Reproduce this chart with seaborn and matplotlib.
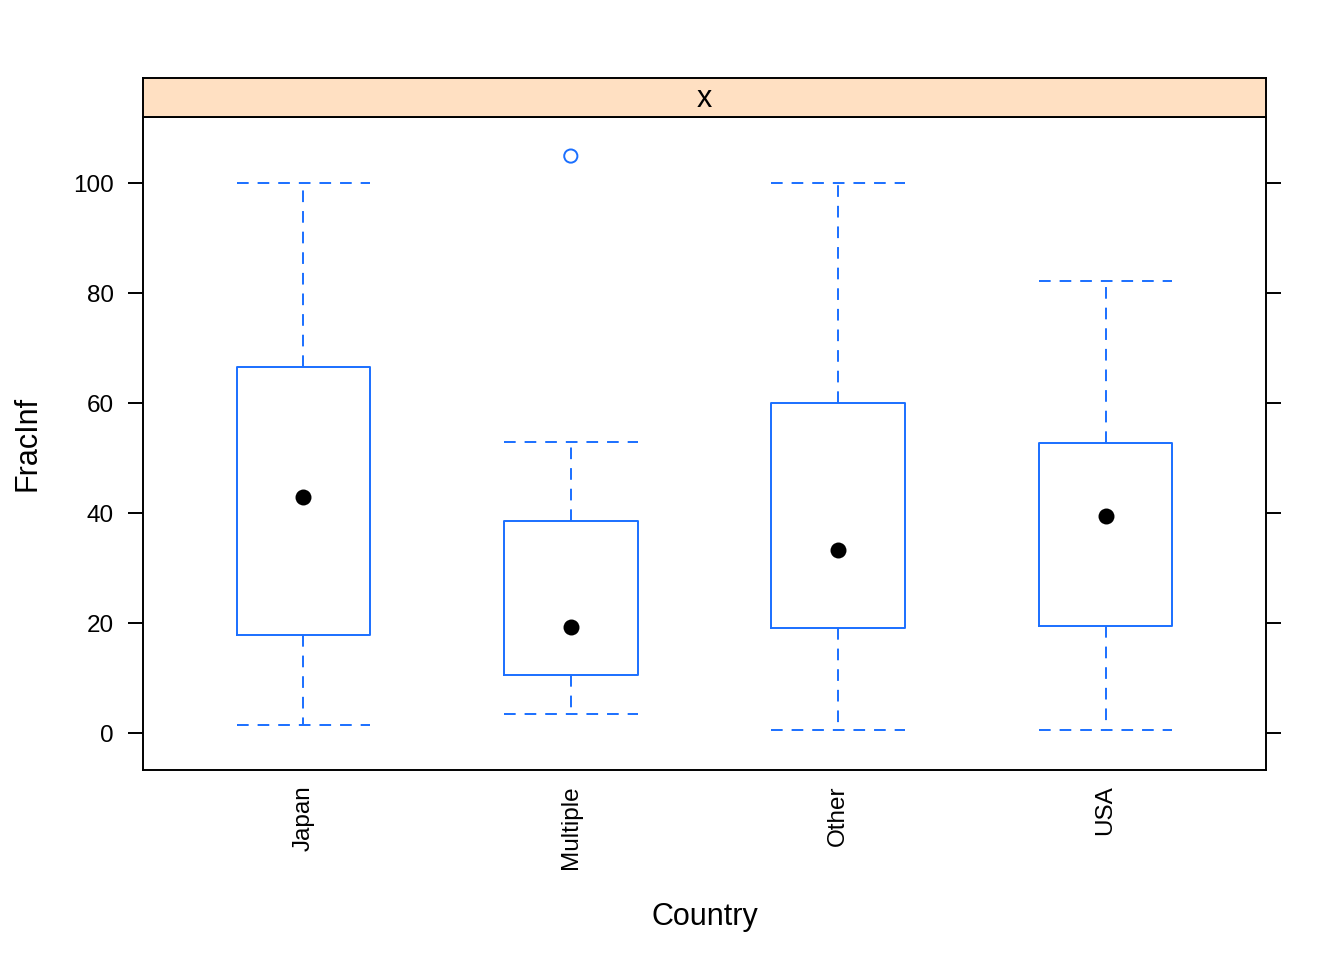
import matplotlib
matplotlib.use("Agg")
import matplotlib.pyplot as plt
import seaborn as sns

# box statistics (FracInf by Country)
countries = ["Japan", "Multiple", "Other", "USA"]
whisker_lo = [1.4, 3.5, 0.5, 0.5]
q1 = [17.8, 10.5, 19.1, 19.5]
median = [42.9, 19.3, 33.3, 39.5]
q3 = [66.6, 38.5, 60.0, 52.7]
whisker_hi = [100.0, 52.9, 100.0, 82.2]
outlier_country = ["Multiple"]
outlier_value = [104.9]

BLUE = "#1a6fff"

sns.set_style("white")
plt.rcParams["font.family"] = ["Liberation Sans", "DejaVu Sans"]
plt.rcParams.update({"text.color": "black", "axes.labelcolor": "black",
                     "xtick.color": "black", "ytick.color": "black"})

fig = plt.figure(figsize=(13.44, 9.6), dpi=100)
left, bottom, width, height = 143 / 1344, 1 - 770 / 960, 1123 / 1344, 653 / 960
ax = fig.add_axes([left, bottom, width, height])

stats = []
for i, name in enumerate(countries):
    stats.append({"label": name, "whislo": whisker_lo[i], "q1": q1[i],
                  "med": median[i], "q3": q3[i], "whishi": whisker_hi[i],
                  "fliers": []})

lw = 1.4
dash = (0, (6, 4.6))
ax.bxp(stats, positions=range(len(countries)), widths=0.5, capwidths=0.5,
       showfliers=False,
       boxprops=dict(color=BLUE, linewidth=lw),
       whiskerprops=dict(color=BLUE, linewidth=lw, linestyle=dash),
       capprops=dict(color=BLUE, linewidth=lw, linestyle=dash),
       medianprops=dict(visible=False))

sns.stripplot(x=countries, y=median, order=countries, jitter=False,
              color="black", size=11.5, linewidth=0, ax=ax, zorder=4)
sns.stripplot(x=outlier_country, y=outlier_value, order=countries, jitter=False,
              color=BLUE, facecolor="none", edgecolor=BLUE, linewidth=lw,
              size=9.5, ax=ax, zorder=4)

ax.set_xlim(-0.6, len(countries) - 0.4)
ax.set_ylim(-6.7, 112)
ax.set_yticks([0, 20, 40, 60, 80, 100])
ax.set_xticks(range(len(countries)))
ax.set_xticklabels(countries, rotation=90)
ax.tick_params(axis="y", left=True, right=True, direction="out", length=11,
               width=lw, labelsize=17.5, pad=10)
ax.tick_params(axis="x", bottom=False, length=0, labelsize=17.5, pad=11)
for sp in ax.spines.values():
    sp.set_color("black")
    sp.set_linewidth(lw)

ax.set_xlabel("Country", fontsize=22, va="center")
ax.set_ylabel("FracInf", fontsize=22, va="center")
ax.xaxis.set_label_coords(0.5, (770 - 917) / 653)
ax.yaxis.set_label_coords((28 - 143) / 1123, 0.5)

# strip on top of the panel
strip = fig.add_axes([left, 1 - 117 / 960, width, 39 / 960])
strip.set_facecolor("#ffe0c2")
strip.set_xticks([])
strip.set_yticks([])
for sp in strip.spines.values():
    sp.set_color("black")
    sp.set_linewidth(lw)
strip.text(0.5, 0.45, "x", ha="center", va="center", fontsize=22,
           transform=strip.transAxes)

fig.savefig("out.png", dpi=100)
